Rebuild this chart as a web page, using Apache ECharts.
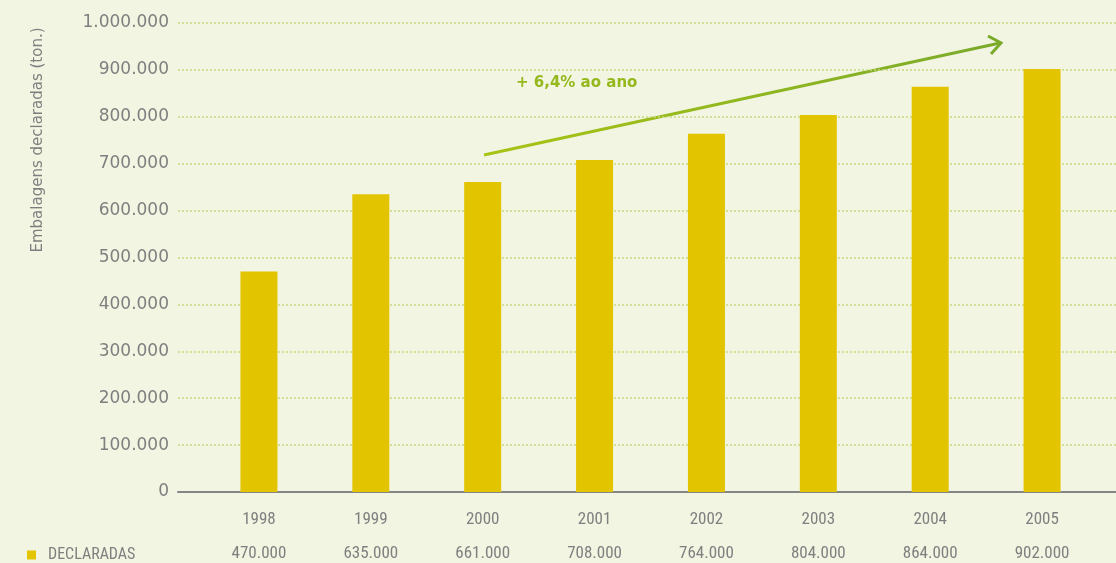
<!DOCTYPE html>
<html>
<head>
<meta charset="utf-8">
<script src="https://cdn.jsdelivr.net/npm/echarts@6/dist/echarts.min.js"></script>
<style>
  html, body { margin: 0; padding: 0; background: #f2f5e2; }
  #main { width: 1116px; height: 563px; }
</style>
</head>
<body>
<div id="main"></div>
<script>
const years = ["1998", "1999", "2000", "2001", "2002", "2003", "2004", "2005"];
const declaradas = [470000, 635000, 661000, 708000, 764000, 804000, 864000, 902000];
const valueLabels = ["470.000", "635.000", "661.000", "708.000", "764.000", "804.000", "864.000", "902.000"];

const grey = "#7f7f7f";
const narrow = '"Roboto Condensed", "DejaVu Sans Condensed", sans-serif';

// thousands with dots, like 1.000.000
function fmt(v) {
  return String(v).replace(/\B(?=(\d{3})+(?!\d))/g, ".");
}

const chart = echarts.init(document.getElementById("main"));
chart.setOption({
  backgroundColor: "#f2f5e2",
  animation: false,
  legend: {
    left: 22,
    top: 542,
    icon: "rect",
    itemWidth: 9,
    itemHeight: 9,
    data: ["DECLARADAS"],
    textStyle: { color: grey, fontSize: 16, fontFamily: narrow, padding: [0, 0, 0, 7] }
  },
  grid: [
    { left: 178, right: 0, top: 23, bottom: 71 },
    { left: 203, right: 18, top: 23, bottom: 71 }
  ],
  xAxis: [
    {
      // only the base line, full width
      gridIndex: 0,
      type: "value",
      min: 0,
      max: 1,
      axisLine: { show: true, lineStyle: { color: "#858585", width: 2 } },
      axisTick: { show: false },
      axisLabel: { show: false },
      splitLine: { show: false }
    },
    {
      gridIndex: 1,
      type: "category",
      data: years,
      axisLine: { show: false },
      axisTick: { show: false },
      axisLabel: {
        margin: 11,
        formatter: function (val, i) {
          return "{y|" + val + "}\n{v|" + valueLabels[i] + "}";
        },
        rich: {
          y: { color: grey, fontSize: 17, fontFamily: narrow, lineHeight: 34 },
          v: { color: grey, fontSize: 17, fontFamily: narrow, lineHeight: 34 }
        }
      }
    }
  ],
  yAxis: [
    {
      gridIndex: 0,
      type: "value",
      min: 0,
      max: 1000000,
      interval: 100000,
      axisLine: { show: false },
      axisTick: { show: false },
      axisLabel: {
        margin: 9,
        color: grey,
        fontSize: 17,
        fontFamily: '"DejaVu Sans", sans-serif',
        formatter: fmt
      },
      splitLine: { lineStyle: { color: "#c8d97c", type: [2, 2], width: 1.5 } }
    },
    {
      gridIndex: 1,
      type: "value",
      min: 0,
      max: 1000000,
      show: false,
      splitLine: { show: false }
    }
  ],
  series: [
    {
      name: "DECLARADAS",
      type: "bar",
      xAxisIndex: 1,
      yAxisIndex: 1,
      barWidth: 37,
      itemStyle: { color: "#e2c400" },
      data: declaradas
    }
  ],
  graphic: [
    {
      type: "text",
      x: 38,
      y: 140,
      rotation: Math.PI / 2,
      style: {
        text: "Embalagens declaradas (ton.)",
        fill: grey,
        fontSize: 15,
        fontFamily: '"DejaVu Sans", sans-serif',
        align: "center",
        verticalAlign: "middle"
      }
    },
    {
      type: "line",
      shape: { x1: 484, y1: 155, x2: 1000, y2: 43 },
      style: {
        lineWidth: 3,
        stroke: new echarts.graphic.LinearGradient(0, 0, 1, 0, [
          { offset: 0, color: "#a8c414" },
          { offset: 1, color: "#7aaa2a" }
        ])
      }
    },
    {
      type: "polyline",
      shape: { points: [[988, 36], [1001, 43], [991, 54]] },
      style: { stroke: "#7aaa2a", lineWidth: 3, fill: null }
    },
    {
      type: "text",
      x: 516,
      y: 83,
      style: {
        text: "+ 6,4% ao ano",
        fill: "#95b81c",
        fontSize: 15,
        fontWeight: "bold",
        fontFamily: '"DejaVu Sans", sans-serif',
        verticalAlign: "middle"
      }
    }
  ]
});
</script>
</body>
</html>
